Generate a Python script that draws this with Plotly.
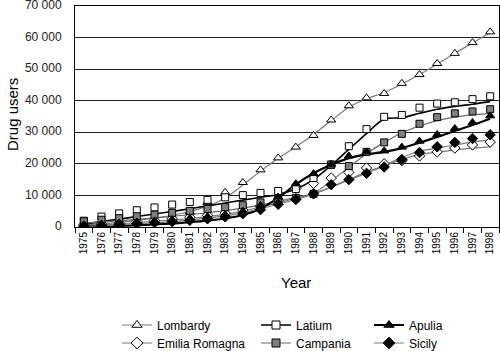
import plotly.graph_objects as go

years = [str(y) for y in range(1975, 1999)]

# observed values (markers)
lombardy = [700, 1000, 1400, 1900, 2500, 3300, 4800, 7800, 11000, 14100, 18100, 21900,
            25300, 29000, 33900, 38400, 40900, 42300, 45500, 48300, 51800, 55000, 58400, 61800]
latium = [2000, 3300, 4300, 5300, 6200, 7100, 7900, 8600, 9400, 10100, 10800, 11400,
          12000, 15500, 19700, 25600, 31000, 34900, 35500, 37800, 39100, 39500, 40500, 41400]
apulia = [600, 900, 1200, 1500, 1900, 2300, 2800, 3300, 4000, 5000, 6800, 9500,
          13700, 16900, 19900, 22500, 23800, 24100, 25300, 27200, 29300, 31200, 33100, 35200]
emilia = [700, 1000, 1300, 1700, 2100, 2600, 3100, 3700, 4400, 5400, 6600, 8500,
          12200, 13800, 15500, 17300, 18700, 20000, 21000, 22500, 23800, 25000, 26000, 26900]
campania = [1800, 2300, 2800, 3400, 3900, 4500, 5100, 5700, 6300, 6900, 7800, 8700,
            9200, 10500, 19800, 19300, 23800, 26800, 29500, 32700, 34800, 36000, 36600, 37300]
sicily = [300, 500, 800, 1100, 1400, 1700, 2100, 2600, 3200, 4200, 5500, 7200,
          8700, 10500, 13400, 15000, 17000, 19000, 21400, 23600, 25400, 26800, 28000, 29200]

# trend curves (lines)
lombardy_trend = [600, 1000, 1500, 2100, 2800, 3700, 4900, 6600, 9200, 13300, 17700, 21800,
                  25400, 29300, 33700, 37900, 40600, 42600, 45300, 48300, 51600, 55000, 58300, 61500]
latium_trend = [900, 1700, 2500, 3300, 4100, 4900, 5800, 6700, 7600, 8500, 9400, 10300,
                12000, 15000, 19500, 24600, 29600, 34200, 34600, 36000, 37300, 38200, 38900, 39700]
apulia_trend = [100, 200, 350, 550, 800, 1100, 1500, 2000, 2700, 3800, 5800, 9200,
                13500, 17000, 19700, 21800, 23000, 23800, 25000, 26700, 28500, 30400, 32300, 34300]
emilia_trend = [400, 700, 1000, 1400, 1800, 2200, 2700, 3300, 4000, 5000, 6300, 7700,
                9100, 10500, 12600, 14800, 17000, 19300, 21400, 22900, 23700, 24400, 25000, 25400]
campania_trend = [1200, 1600, 2000, 2400, 2900, 3400, 3900, 4500, 5200, 6000, 7000, 8200,
                  9400, 10700, 14600, 18900, 23200, 26800, 29800, 32000, 33700, 34800, 35500, 36000]
sicily_trend = [200, 400, 700, 1000, 1300, 1700, 2200, 2800, 3500, 4500, 5800, 7200,
                8700, 10400, 12700, 15100, 17400, 19500, 22000, 24000, 25000, 26000, 26900, 27600]

FONT = "Arial, Liberation Sans, sans-serif"

W, H = 500, 351
L, R, T, B = 75, 1, 6, 124
pw, ph = W - L - R, H - T - B

def px(x):
    return (x - L) / pw

def py(y):
    return (H - B - y) / ph

series = [
    # name, values, trend, symbol, fill, line colour, line width, legend id, legend x/y (px)
    ("Lombardy", lombardy, lombardy_trend, "triangle-up", "white", "#7a7a7a", 1.2, "legend", 117, 325),
    ("Emilia Romagna", emilia, emilia_trend, "diamond", "white", "#7a7a7a", 1.2, "legend2", 117, 343),
    ("Latium", latium, latium_trend, "square", "white", "#000000", 1.6, "legend3", 256, 325),
    ("Campania", campania, campania_trend, "square", "#7f7f7f", "#6a6a6a", 1.2, "legend4", 256, 343),
    ("Apulia", apulia, apulia_trend, "triangle-up", "black", "#000000", 2.2, "legend5", 369, 325),
    ("Sicily", sicily, sicily_trend, "diamond", "black", "#7a7a7a", 1.2, "legend6", 369, 343),
]

SIZES = {"triangle-up": 8, "square": 7, "diamond": 8}

fig = go.Figure()

# trend lines first
for s in series:
    name, vals, trend, sym, fill, lc, lw = s[:7]
    fig.add_trace(go.Scatter(x=years, y=trend, mode="lines",
                             line=dict(color=lc, width=lw, shape="spline", smoothing=0.8),
                             showlegend=False, hoverinfo="skip"))

# markers
for s in series:
    name, vals, trend, sym, fill, lc, lw = s[:7]
    fig.add_trace(go.Scatter(x=years, y=vals, mode="markers", name=name,
                             marker=dict(symbol=sym, size=SIZES[sym],
                                         color=fill, line=dict(color="black", width=1)),
                             showlegend=False))

# legend entries (one legend box per entry, arranged in a 3 x 2 grid)
legend_layouts = {}
for s in series:
    name, vals, trend, sym, fill, lc, lw, lg, lx, ly = s
    fig.add_trace(go.Scatter(x=[None], y=[None], mode="lines+markers", name=name,
                             marker=dict(symbol=sym, size=SIZES[sym] + 1,
                                         color=fill, line=dict(color="black", width=1)),
                             line=dict(color=lc, width=lw), legend=lg, showlegend=True))
    legend_layouts[lg] = dict(orientation="v", xanchor="left", yanchor="middle",
                              x=lx / W, y=1 - ly / H, xref="container", yref="container",
                              bgcolor="rgba(0,0,0,0)", itemwidth=30,
                              font=dict(family=FONT, size=12, color="black"))

fig.update_layout(
    width=W, height=H,
    margin=dict(l=L, r=R, t=T, b=B, autoexpand=False),
    paper_bgcolor="white", plot_bgcolor="white",
    font=dict(family=FONT, color="black"),
    xaxis=dict(type="category", range=[-0.5, 23.5], showgrid=False, automargin=False,
               showline=True, linecolor="black", linewidth=1, mirror=True,
               ticks="outside", tickson="boundaries", ticklen=5, tickcolor="black",
               tickangle=-90, tickfont=dict(family=FONT, size=10, color="black")),
    yaxis=dict(range=[0, 70000], dtick=10000, tickformat=",d", automargin=False,
               showgrid=True, gridcolor="#222222", gridwidth=1, zeroline=False,
               showline=True, linecolor="black", linewidth=1, mirror=True,
               ticks="", ticklabelstandoff=10, ticklabelshift=-1, ticklabeloverflow="allow",
               tickfont=dict(family=FONT, size=12, color="#222222")),
    separators=". ",
    annotations=[
        dict(text="Drug users", x=px(12), y=py(115), xref="paper", yref="paper",
             xanchor="center", yanchor="middle",
             showarrow=False, textangle=-90, font=dict(family=FONT, size=15, color="black")),
        dict(text="Year", x=px(296), y=py(282), xref="paper", yref="paper",
             xanchor="center", yanchor="middle",
             showarrow=False, font=dict(family=FONT, size=15, color="black")),
    ],
    **legend_layouts,
)

fig.write_html("out.html")
